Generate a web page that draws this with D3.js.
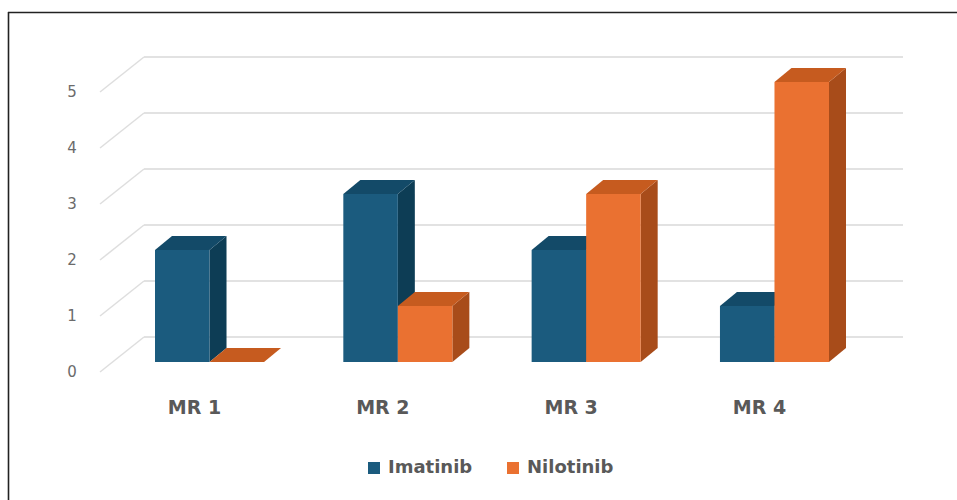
<!DOCTYPE html>
<html>
<head>
<meta charset="utf-8">
<script src="https://cdn.jsdelivr.net/npm/d3@7/dist/d3.min.js"></script>
<style>
  html, body { margin: 0; padding: 0; background: #ffffff; }
  svg { display: block; }
</style>
</head>
<body>
<svg id="chart" width="957" height="500"></svg>
<script>
// Response levels and the count of patients per drug
const categories = ["MR 1", "MR 2", "MR 3", "MR 4"];
const seriesNames = ["Imatinib", "Nilotinib"];
const imatinib = [2, 3, 2, 1];
const nilotinib = [0, 1, 3, 5];
const yTicks = [0, 1, 2, 3, 4, 5];

const faceColors = {
  Imatinib: { front: "#1b5b7e", side: "#0d3d55", top: "#134a68" },
  Nilotinib: { front: "#ea7131", side: "#a84c1a", top: "#c65b1f" }
};

const svg = d3.select("#chart");

// frame: left and top rules
svg.append("line").attr("x1", 8.5).attr("y1", 12).attr("x2", 8.5).attr("y2", 500)
  .attr("stroke", "#222").attr("stroke-width", 1.6);
svg.append("line").attr("x1", 8).attr("y1", 12.5).attr("x2", 957).attr("y2", 12.5)
  .attr("stroke", "#222").attr("stroke-width", 1.6);

// front plane of the columns
const y = d3.scaleLinear().domain([0, 5]).range([362, 82]);
const x = d3.scaleBand().domain(categories).range([155, 829]).paddingInner(0.421).paddingOuter(0);
const xs = d3.scaleBand().domain(seriesNames).range([0, x.bandwidth()]).padding(0);

// depth of a column and offset of the back wall
const depth = { dx: 17, dy: -14 };
const wall = { dx: 44, dy: -35, front: 10 }; // floor front sits 10px below the column front

const grid = svg.append("g");
yTicks.forEach(v => {
  const yb = y(v) + wall.front + wall.dy;
  grid.append("line")
    .attr("x1", 100 + wall.dx).attr("x2", 903).attr("y1", yb).attr("y2", yb)
    .attr("stroke", "#d9d9d9").attr("stroke-width", 1.5);
  grid.append("line")
    .attr("x1", 100 + wall.dx).attr("y1", yb).attr("x2", 100).attr("y2", y(v) + wall.front)
    .attr("stroke", "#dedede").attr("stroke-width", 1.5);
  grid.append("text")
    .attr("x", 72).attr("y", y(v) + wall.front)
    .attr("dominant-baseline", "middle").attr("text-anchor", "middle")
    .attr("font-family", "DejaVu Sans").attr("font-size", 15)
    .attr("fill", "#6b6b6b").text(v);
});

// columns drawn left to right so each hides its neighbour's side face
const rows = [];
categories.forEach((c, i) => {
  rows.push({ cat: c, series: "Imatinib", value: imatinib[i] });
  rows.push({ cat: c, series: "Nilotinib", value: nilotinib[i] });
});

const bars = svg.append("g");
rows.forEach(d => {
  const x0 = x(d.cat) + xs(d.series);
  const x1 = x0 + xs.bandwidth();
  const yt = y(d.value), yb = y(0);
  const col = faceColors[d.series];
  const g = bars.append("g");
  // side face
  g.append("path")
    .attr("d", `M${x1},${yb} L${x1 + depth.dx},${yb + depth.dy} L${x1 + depth.dx},${yt + depth.dy} L${x1},${yt} Z`)
    .attr("fill", col.side);
  // top face
  g.append("path")
    .attr("d", `M${x0},${yt} L${x0 + depth.dx},${yt + depth.dy} L${x1 + depth.dx},${yt + depth.dy} L${x1},${yt} Z`)
    .attr("fill", col.top);
  // front face
  g.append("rect")
    .attr("x", x0).attr("y", yt).attr("width", x1 - x0).attr("height", yb - yt)
    .attr("fill", col.front);
});

// category labels along the floor front
svg.append("g").selectAll("text").data(categories).join("text")
  .attr("x", d => x(d) + x.bandwidth() / 2 - 15)
  .attr("y", 408)
  .attr("dominant-baseline", "middle").attr("text-anchor", "middle")
  .attr("font-family", "DejaVu Sans").attr("font-weight", "bold").attr("font-size", 19)
  .attr("fill", "#595959")
  .text(d => d);

// legend
const legend = svg.append("g");
const legendX = { Imatinib: 368, Nilotinib: 507 };
seriesNames.forEach(s => {
  legend.append("rect")
    .attr("x", legendX[s]).attr("y", 462).attr("width", 12).attr("height", 12)
    .attr("fill", faceColors[s].front);
  legend.append("text")
    .attr("x", legendX[s] + 20).attr("y", 468)
    .attr("dominant-baseline", "middle")
    .attr("font-family", "DejaVu Sans").attr("font-weight", "bold").attr("font-size", 18)
    .attr("fill", "#595959")
    .text(s);
});
</script>
</body>
</html>
